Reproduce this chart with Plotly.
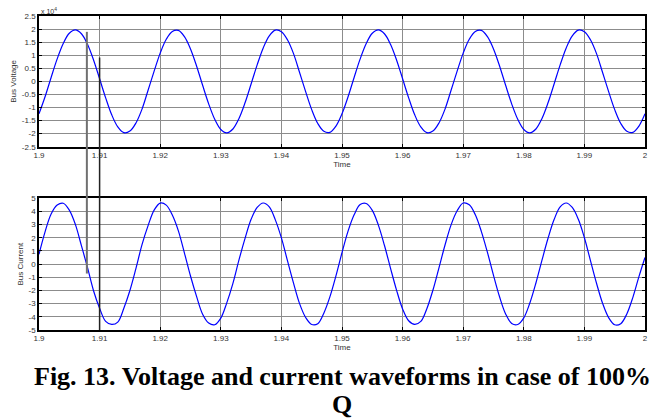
import plotly.graph_objects as go
from plotly.subplots import make_subplots

# time samples (s)
time = [round(1.9 + 0.001 * k, 3) for k in range(101)]

# Bus voltage (x 10^4)
bus_voltage = [
    -1.24, -0.59, 0.15, 0.86, 1.45, 1.84, 1.97, 1.82, 1.42, 0.82,
    0.10, -0.63, -1.28, -1.74, -1.96, -1.90, -1.59, -1.06, -0.34, 0.39,
    1.08, 1.61, 1.91, 1.95, 1.71, 1.24, 0.59, -0.15, -0.86, -1.45,
    -1.84, -1.97, -1.82, -1.42, -0.82, -0.10, 0.63, 1.28, 1.74, 1.96,
    1.90, 1.59, 1.06, 0.34, -0.39, -1.08, -1.61, -1.91, -1.95, -1.71,
    -1.24, -0.59, 0.15, 0.86, 1.45, 1.84, 1.97, 1.82, 1.42, 0.82,
    0.10, -0.63, -1.28, -1.74, -1.96, -1.90, -1.59, -1.06, -0.34, 0.39,
    1.08, 1.61, 1.91, 1.95, 1.71, 1.24, 0.59, -0.15, -0.86, -1.45,
    -1.84, -1.97, -1.82, -1.42, -0.82, -0.10, 0.63, 1.28, 1.74, 1.96,
    1.90, 1.59, 1.06, 0.34, -0.39, -1.08, -1.61, -1.91, -1.95, -1.71,
    -1.24,
]

# Bus current
bus_current = [
    0.75, 2.45, 3.80, 4.48, 4.62, 4.10, 3.02, 1.40, -0.25, -2.02,
    -3.35, -4.35, -4.58, -4.40, -3.35, -2.00, -0.32, 1.48, 2.92, 4.10,
    4.63, 4.48, 3.72, 2.52, 0.84, -0.90, -2.45, -3.80, -4.47, -4.60,
    -4.10, -2.92, -1.46, 0.32, 1.95, 3.40, 4.30, 4.64, 4.35, 3.36,
    1.99, 0.26, -1.44, -3.00, -4.05, -4.58, -4.52, -3.72, -2.49, -0.89,
    0.87, 2.50, 3.74, 4.52, 4.60, 4.08, 2.96, 1.43, -0.30, -1.97,
    -3.40, -4.30, -4.58, -4.35, -3.38, -1.98, -0.28, 1.45, 2.98, 4.05,
    4.64, 4.50, 3.74, 2.47, 0.89, -0.85, -2.48, -3.78, -4.50, -4.58,
    -4.08, -2.95, -1.43, 0.30, 1.96, 3.38, 4.34, 4.64, 4.30, 3.40,
    2.00, 0.27, -1.45, -2.97, -4.06, -4.60, -4.52, -3.78, -2.52, -0.95,
    0.50,
]

x_ticks = [1.9, 1.91, 1.92, 1.93, 1.94, 1.95, 1.96, 1.97, 1.98, 1.99, 2.0]
x_tick_labels = ["1.9", "1.91", "1.92", "1.93", "1.94", "1.95", "1.96", "1.97", "1.98", "1.99", "2"]
v_ticks = [-2.5, -2, -1.5, -1, -0.5, 0, 0.5, 1, 1.5, 2, 2.5]
i_ticks = [-5, -4, -3, -2, -1, 0, 1, 2, 3, 4, 5]

fig = make_subplots(rows=2, cols=1, vertical_spacing=0.0)

fig.add_trace(go.Scatter(x=time, y=bus_voltage, mode="lines", line=dict(color="#0000ff", width=1.2, shape="spline"),
                         showlegend=False), row=1, col=1)
fig.add_trace(go.Scatter(x=time, y=bus_current, mode="lines", line=dict(color="#0000ff", width=1.2, shape="spline"),
                         showlegend=False), row=2, col=1)

small_font = dict(family="Liberation Sans, Arial", size=8, color="#333")
ax_common = dict(showgrid=True, gridcolor="#8c8c8c", gridwidth=1, zeroline=False,
                 showline=True, linecolor="black", linewidth=1.5, mirror="allticks",
                 ticks="inside", ticklen=3, tickcolor="black", tickfont=small_font)

fig.update_xaxes(range=[1.9, 2.0], tickvals=x_ticks, ticktext=x_tick_labels, **ax_common)
fig.update_xaxes(domain=[0, 1])
fig.update_yaxes(**ax_common)
fig.update_yaxes(range=[-2.5, 2.5], tickvals=v_ticks, ticktext=[f"{v:g}" for v in v_ticks],
                 domain=[0.5836, 1.0], row=1, col=1,
                 title=dict(text="Bus Voltage", font=small_font, standoff=4))
fig.update_yaxes(range=[-5, 5], tickvals=i_ticks, ticktext=[f"{v:g}" for v in i_ticks],
                 domain=[0.0, 0.4196], row=2, col=1,
                 title=dict(text="Bus Current", font=small_font, standoff=4))
fig.update_xaxes(title=dict(text="Time", font=small_font, standoff=2), row=1, col=1)
fig.update_xaxes(title=dict(text="Time", font=small_font, standoff=2), row=2, col=1)

# marker lines drawn across both panels
fig.add_shape(type="line", xref="x", yref="paper", x0=1.9079, x1=1.9079, y0=0.1798, y1=0.9495,
              line=dict(color="#707070", width=2))
fig.add_shape(type="line", xref="x", yref="paper", x0=1.91, x1=1.91, y0=0.0, y1=0.8675,
              line=dict(color="#222222", width=1.5))

fig.add_annotation(text="x 10<sup>4</sup>", xref="paper", yref="paper", x=0.0, y=1.0, xanchor="left", yanchor="bottom",
                   showarrow=False, font=dict(family="Liberation Sans, Arial", size=7, color="#333"), yshift=-1)

cap_font = dict(family="Liberation Serif, Times New Roman", size=26, color="black")
fig.add_annotation(text="<b>Fig. 13. Voltage and current waveforms in case of 100%</b>", xref="paper", yref="paper",
                   x=0.5, y=-0.148, xanchor="center", yanchor="middle", showarrow=False, font=cap_font, borderpad=0)
fig.add_annotation(text="<b>Q</b>", xref="paper", yref="paper",
                   x=0.5, y=-0.237, xanchor="center", yanchor="middle", showarrow=False, font=cap_font, borderpad=0)

fig.update_layout(width=660, height=419, margin=dict(l=37, r=14, t=13, b=89),
                  paper_bgcolor="white", plot_bgcolor="white")

fig.write_html("out.html")
